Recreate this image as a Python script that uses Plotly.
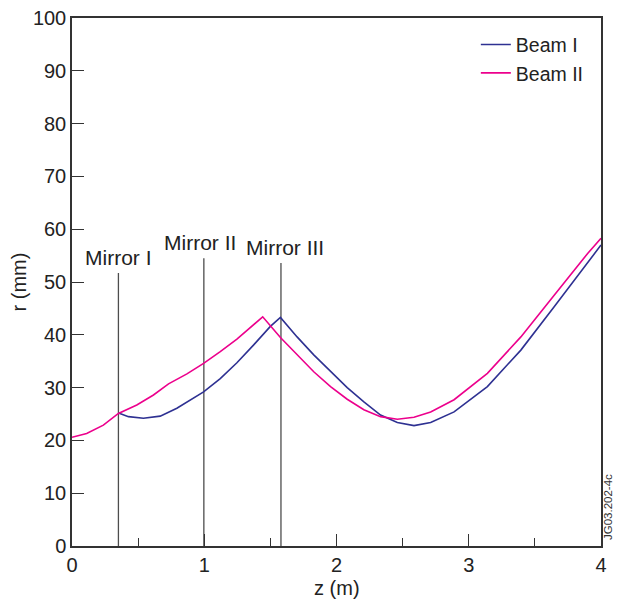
import plotly.graph_objects as go

# Beam I (blue)
beam1_z = [0.352, 0.427, 0.54, 0.667, 0.793, 0.995, 1.121, 1.247, 1.374, 1.5, 1.576,
           1.702, 1.828, 1.955, 2.081, 2.207, 2.333, 2.46, 2.586, 2.712, 2.889,
           3.141, 3.394, 3.646, 3.899, 4.0]
beam1_r = [25.2, 24.5, 24.2, 24.6, 26.1, 29.2, 31.7, 34.7, 38.1, 41.6, 43.3,
           39.6, 36.2, 33.0, 30.0, 27.3, 24.8, 23.4, 22.8, 23.4, 25.4,
           30.2, 37.1, 45.3, 53.5, 57.0]

# Beam II (magenta)
beam2_z = [0.0, 0.111, 0.237, 0.351, 0.49, 0.616, 0.73, 0.869, 0.995, 1.121, 1.247,
           1.374, 1.442, 1.576, 1.702, 1.828, 1.955, 2.081, 2.207, 2.333, 2.46,
           2.586, 2.712, 2.889, 3.141, 3.394, 3.646, 3.899, 4.0]
beam2_r = [20.6, 21.3, 22.9, 25.1, 26.7, 28.6, 30.7, 32.6, 34.6, 36.8, 39.2,
           41.9, 43.4, 39.5, 36.2, 33.0, 30.2, 27.8, 25.8, 24.5, 24.0,
           24.4, 25.4, 27.7, 32.7, 39.6, 47.5, 55.4, 58.3]

# Mirrors
mirror_z = [0.351, 0.997, 1.58]
mirror_top = [51.7, 54.5, 53.6]
mirror_labels = ["Mirror I", "Mirror II", "Mirror III"]
mirror_label_shift = [0, -4, 4]

x_ticks = [0, 1, 2, 3, 4]
y_ticks = list(range(0, 101, 10))

FONT = "Liberation Sans, Arial, Helvetica, sans-serif"
AX = "#333333"

fig = go.Figure()

for mz, mt in zip(mirror_z, mirror_top):
    fig.add_trace(go.Scatter(x=[mz, mz], y=[0, mt], mode="lines",
                             line=dict(color="#4d4d4d", width=1.3),
                             showlegend=False, hoverinfo="skip"))

fig.add_trace(go.Scatter(x=beam1_z, y=beam1_r, mode="lines", name="Beam I",
                         line=dict(color="#2e3192", width=1.6)))
fig.add_trace(go.Scatter(x=beam2_z, y=beam2_r, mode="lines", name="Beam II",
                         line=dict(color="#ec008c", width=1.6)))

for mz, mt, lab, sh in zip(mirror_z, mirror_top, mirror_labels, mirror_label_shift):
    fig.add_annotation(x=mz, y=mt, text=lab, showarrow=False, xanchor="center",
                       yanchor="bottom", yshift=2, xshift=sh,
                       font=dict(size=21, color="#222222", family=FONT))

fig.add_annotation(x=1.0, y=0.0, xref="paper", yref="paper", text="JG03.202-4c",
                   showarrow=False, textangle=-90, xanchor="center", yanchor="bottom",
                   xshift=7, yshift=4, font=dict(size=11.5, color="#333333", family=FONT))

# x-axis title as annotation for precise placement
fig.add_annotation(x=0.5, y=0.0, xref="paper", yref="paper", text="z (m)",
                   showarrow=False, xanchor="center", yanchor="middle", yshift=-42,
                   font=dict(size=20, color="#222222", family=FONT))

fig.update_layout(
    width=613, height=591,
    margin=dict(l=64, r=20, t=10, b=53, autoexpand=False),
    paper_bgcolor="white", plot_bgcolor="white",
    font=dict(family=FONT, size=20, color="#222222"),
    legend=dict(x=0.977, y=0.986, xanchor="right", yanchor="top",
                bgcolor="rgba(0,0,0,0)", font=dict(size=19.5, family=FONT),
                itemwidth=30, tracegroupgap=0),
)
fig.update_xaxes(range=[0, 4], tickvals=x_ticks, ticks="inside", ticklen=12,
                 tickcolor=AX, tickwidth=1.2, showline=True, linecolor=AX, linewidth=1.5,
                 mirror=True, showgrid=False, zeroline=False, automargin=False,
                 ticklabeloverflow="allow",
                 minor=dict(dtick=0.5, ticks="inside", ticklen=8, tickcolor=AX, tickwidth=1.2),
                 tickfont=dict(size=20))
fig.update_yaxes(range=[0, 100], tickvals=y_ticks, ticks="inside", ticklen=12,
                 tickcolor=AX, tickwidth=1.2, showline=True, linecolor=AX, linewidth=1.5,
                 mirror=True, showgrid=False, zeroline=False, automargin=False,
                 ticklabeloverflow="allow",
                 title=dict(text="r (mm)", standoff=6, font=dict(size=20)),
                 tickfont=dict(size=20))

fig.write_html("out.html")
